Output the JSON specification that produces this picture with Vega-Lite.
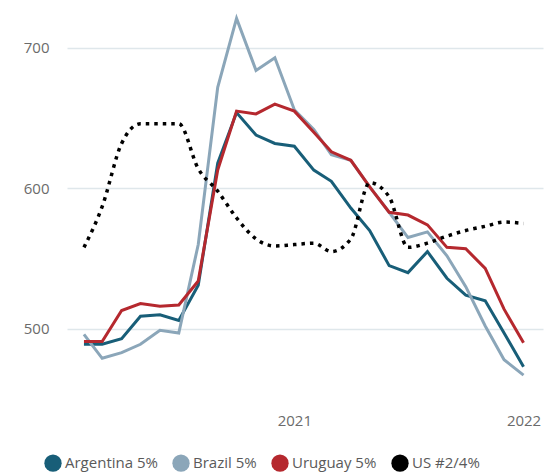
{
  "$schema": "https://vega.github.io/schema/vega-lite/v6.json",
  "width": 476,
  "height": 375,
  "autosize": {"type": "none"},
  "padding": {"left": 67, "top": 10, "right": 4, "bottom": 88},
  "config": {
    "view": {"stroke": null},
    "font": "Open Sans",
    "axis": {"labelFont": "Open Sans", "labelColor": "#6b6b6b", "labelFontSize": 15, "domain": false, "ticks": false}
  },
  "data": {
    "values": [
      {"date": "2020-02-01T00:00:00", "series": "Argentina 5%", "value": 489},
      {"date": "2020-03-01T00:00:00", "series": "Argentina 5%", "value": 489},
      {"date": "2020-04-01T00:00:00", "series": "Argentina 5%", "value": 493},
      {"date": "2020-05-01T00:00:00", "series": "Argentina 5%", "value": 509},
      {"date": "2020-06-01T00:00:00", "series": "Argentina 5%", "value": 510},
      {"date": "2020-07-01T00:00:00", "series": "Argentina 5%", "value": 506},
      {"date": "2020-08-01T00:00:00", "series": "Argentina 5%", "value": 531},
      {"date": "2020-09-01T00:00:00", "series": "Argentina 5%", "value": 618},
      {"date": "2020-10-01T00:00:00", "series": "Argentina 5%", "value": 654},
      {"date": "2020-11-01T00:00:00", "series": "Argentina 5%", "value": 638},
      {"date": "2020-12-01T00:00:00", "series": "Argentina 5%", "value": 632},
      {"date": "2021-01-01T00:00:00", "series": "Argentina 5%", "value": 630},
      {"date": "2021-02-01T00:00:00", "series": "Argentina 5%", "value": 613},
      {"date": "2021-03-01T00:00:00", "series": "Argentina 5%", "value": 605},
      {"date": "2021-04-01T00:00:00", "series": "Argentina 5%", "value": 586},
      {"date": "2021-05-01T00:00:00", "series": "Argentina 5%", "value": 570},
      {"date": "2021-06-01T00:00:00", "series": "Argentina 5%", "value": 545},
      {"date": "2021-07-01T00:00:00", "series": "Argentina 5%", "value": 540},
      {"date": "2021-08-01T00:00:00", "series": "Argentina 5%", "value": 555},
      {"date": "2021-09-01T00:00:00", "series": "Argentina 5%", "value": 536},
      {"date": "2021-10-01T00:00:00", "series": "Argentina 5%", "value": 524},
      {"date": "2021-11-01T00:00:00", "series": "Argentina 5%", "value": 520},
      {"date": "2021-12-01T00:00:00", "series": "Argentina 5%", "value": 497},
      {"date": "2022-01-01T00:00:00", "series": "Argentina 5%", "value": 473},
      {"date": "2020-02-01T00:00:00", "series": "Brazil 5%", "value": 496},
      {"date": "2020-03-01T00:00:00", "series": "Brazil 5%", "value": 479},
      {"date": "2020-04-01T00:00:00", "series": "Brazil 5%", "value": 483},
      {"date": "2020-05-01T00:00:00", "series": "Brazil 5%", "value": 489},
      {"date": "2020-06-01T00:00:00", "series": "Brazil 5%", "value": 499},
      {"date": "2020-07-01T00:00:00", "series": "Brazil 5%", "value": 497},
      {"date": "2020-08-01T00:00:00", "series": "Brazil 5%", "value": 560},
      {"date": "2020-09-01T00:00:00", "series": "Brazil 5%", "value": 672},
      {"date": "2020-10-01T00:00:00", "series": "Brazil 5%", "value": 721},
      {"date": "2020-11-01T00:00:00", "series": "Brazil 5%", "value": 684},
      {"date": "2020-12-01T00:00:00", "series": "Brazil 5%", "value": 693},
      {"date": "2021-01-01T00:00:00", "series": "Brazil 5%", "value": 656},
      {"date": "2021-02-01T00:00:00", "series": "Brazil 5%", "value": 642},
      {"date": "2021-03-01T00:00:00", "series": "Brazil 5%", "value": 624},
      {"date": "2021-04-01T00:00:00", "series": "Brazil 5%", "value": 620},
      {"date": "2021-05-01T00:00:00", "series": "Brazil 5%", "value": 601},
      {"date": "2021-06-01T00:00:00", "series": "Brazil 5%", "value": 583},
      {"date": "2021-07-01T00:00:00", "series": "Brazil 5%", "value": 565},
      {"date": "2021-08-01T00:00:00", "series": "Brazil 5%", "value": 569},
      {"date": "2021-09-01T00:00:00", "series": "Brazil 5%", "value": 552},
      {"date": "2021-10-01T00:00:00", "series": "Brazil 5%", "value": 530},
      {"date": "2021-11-01T00:00:00", "series": "Brazil 5%", "value": 502},
      {"date": "2021-12-01T00:00:00", "series": "Brazil 5%", "value": 478},
      {"date": "2022-01-01T00:00:00", "series": "Brazil 5%", "value": 467},
      {"date": "2020-02-01T00:00:00", "series": "Uruguay 5%", "value": 491},
      {"date": "2020-03-01T00:00:00", "series": "Uruguay 5%", "value": 491},
      {"date": "2020-04-01T00:00:00", "series": "Uruguay 5%", "value": 513},
      {"date": "2020-05-01T00:00:00", "series": "Uruguay 5%", "value": 518},
      {"date": "2020-06-01T00:00:00", "series": "Uruguay 5%", "value": 516},
      {"date": "2020-07-01T00:00:00", "series": "Uruguay 5%", "value": 517},
      {"date": "2020-08-01T00:00:00", "series": "Uruguay 5%", "value": 534},
      {"date": "2020-09-01T00:00:00", "series": "Uruguay 5%", "value": 613},
      {"date": "2020-10-01T00:00:00", "series": "Uruguay 5%", "value": 655},
      {"date": "2020-11-01T00:00:00", "series": "Uruguay 5%", "value": 653},
      {"date": "2020-12-01T00:00:00", "series": "Uruguay 5%", "value": 660},
      {"date": "2021-01-01T00:00:00", "series": "Uruguay 5%", "value": 655},
      {"date": "2021-02-01T00:00:00", "series": "Uruguay 5%", "value": 640},
      {"date": "2021-03-01T00:00:00", "series": "Uruguay 5%", "value": 626},
      {"date": "2021-04-01T00:00:00", "series": "Uruguay 5%", "value": 620},
      {"date": "2021-05-01T00:00:00", "series": "Uruguay 5%", "value": 601},
      {"date": "2021-06-01T00:00:00", "series": "Uruguay 5%", "value": 583},
      {"date": "2021-07-01T00:00:00", "series": "Uruguay 5%", "value": 581},
      {"date": "2021-08-01T00:00:00", "series": "Uruguay 5%", "value": 574},
      {"date": "2021-09-01T00:00:00", "series": "Uruguay 5%", "value": 558},
      {"date": "2021-10-01T00:00:00", "series": "Uruguay 5%", "value": 557},
      {"date": "2021-11-01T00:00:00", "series": "Uruguay 5%", "value": 543},
      {"date": "2021-12-01T00:00:00", "series": "Uruguay 5%", "value": 514},
      {"date": "2022-01-01T00:00:00", "series": "Uruguay 5%", "value": 490},
      {"date": "2020-02-01T00:00:00", "series": "US #2/4%", "value": 558},
      {"date": "2020-03-01T00:00:00", "series": "US #2/4%", "value": 587},
      {"date": "2020-04-01T00:00:00", "series": "US #2/4%", "value": 632},
      {"date": "2020-05-01T00:00:00", "series": "US #2/4%", "value": 646},
      {"date": "2020-06-01T00:00:00", "series": "US #2/4%", "value": 646},
      {"date": "2020-07-01T00:00:00", "series": "US #2/4%", "value": 646},
      {"date": "2020-08-01T00:00:00", "series": "US #2/4%", "value": 614},
      {"date": "2020-09-01T00:00:00", "series": "US #2/4%", "value": 598},
      {"date": "2020-10-01T00:00:00", "series": "US #2/4%", "value": 579},
      {"date": "2020-11-01T00:00:00", "series": "US #2/4%", "value": 564},
      {"date": "2020-12-01T00:00:00", "series": "US #2/4%", "value": 559},
      {"date": "2021-01-01T00:00:00", "series": "US #2/4%", "value": 560},
      {"date": "2021-02-01T00:00:00", "series": "US #2/4%", "value": 561},
      {"date": "2021-03-01T00:00:00", "series": "US #2/4%", "value": 555},
      {"date": "2021-04-01T00:00:00", "series": "US #2/4%", "value": 564},
      {"date": "2021-05-01T00:00:00", "series": "US #2/4%", "value": 604},
      {"date": "2021-06-01T00:00:00", "series": "US #2/4%", "value": 594},
      {"date": "2021-07-01T00:00:00", "series": "US #2/4%", "value": 558},
      {"date": "2021-08-01T00:00:00", "series": "US #2/4%", "value": 561},
      {"date": "2021-09-01T00:00:00", "series": "US #2/4%", "value": 566},
      {"date": "2021-10-01T00:00:00", "series": "US #2/4%", "value": 570},
      {"date": "2021-11-01T00:00:00", "series": "US #2/4%", "value": 573},
      {"date": "2021-12-01T00:00:00", "series": "US #2/4%", "value": 576},
      {"date": "2022-01-01T00:00:00", "series": "US #2/4%", "value": 575}
    ]
  },
  "encoding": {
    "x": {
      "field": "date",
      "type": "temporal",
      "scale": {"domain": [{"year": 2020, "month": 1, "date": 5}, {"year": 2022, "month": 2, "date": 1}]},
      "axis": {
        "title": null,
        "grid": false,
        "values": [{"year": 2021, "month": 1, "date": 1}, {"year": 2022, "month": 1, "date": 1}],
        "format": "%Y",
        "labelPadding": 28
      }
    },
    "y": {
      "field": "value",
      "type": "quantitative",
      "scale": {"domain": [460, 727], "nice": false, "zero": false},
      "axis": {
        "title": null,
        "values": [500, 600, 700],
        "grid": true,
        "gridColor": "#dfe7eb",
        "gridWidth": 1.6,
        "labelPadding": 18
      }
    },
    "color": {
      "field": "series",
      "type": "nominal",
      "scale": {
        "domain": ["Argentina 5%", "Brazil 5%", "Uruguay 5%", "US #2/4%"],
        "range": ["#185e78", "#8ba6b9", "#b5282e", "#000000"]
      },
      "legend": {
        "title": null,
        "orient": "none",
        "legendX": -23,
        "legendY": 444,
        "direction": "horizontal",
        "symbolType": "circle",
        "symbolSize": 300,
        "symbolStrokeWidth": 0,
        "labelFont": "Open Sans",
        "labelFontSize": 15,
        "labelColor": "#5a5a5a",
        "labelOffset": 3,
        "columnPadding": 14,
        "encode": {
          "symbols": {"update": {"fill": {"scale": "color", "field": "value"}, "size": {"value": 300}, "strokeWidth": {"value": 0}, "opacity": {"value": 1}}}
        }
      }
    }
  },
  "layer": [
    {
      "transform": [{"filter": "datum.series !== 'US #2/4%'"}],
      "mark": {"type": "line", "strokeWidth": 3}
    },
    {
      "transform": [{"filter": "datum.series === 'US #2/4%'"}],
      "mark": {"type": "line", "strokeWidth": 3.5, "strokeDash": [3.5, 5], "interpolate": "monotone"}
    }
  ]
}
